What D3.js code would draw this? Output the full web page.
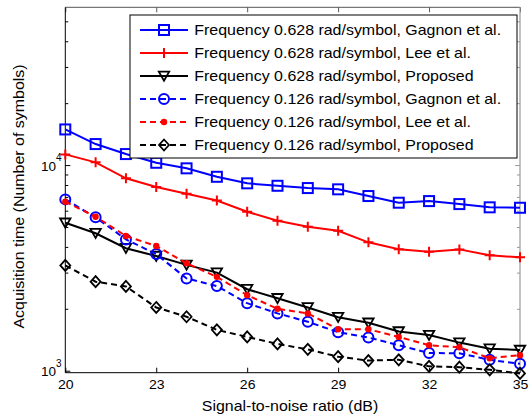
<!DOCTYPE html>
<html>
<head>
<meta charset="utf-8">
<script src="https://cdn.jsdelivr.net/npm/d3@7"></script>
<style>
body { margin: 0; background: #fff; }
text { font-family: "Liberation Sans", Arial, sans-serif; fill: #000; }
</style>
</head>
<body>
<div class="chart"></div>
<script>

// data
var snr = [20, 21, 22, 23, 24, 25, 26, 27, 28, 29, 30, 31, 32, 33, 34, 35]

var gagnon628 = [14900, 12650, 11310, 10260, 9640, 8770, 8150, 7930, 7730, 7620, 7070, 6560, 6680, 6460, 6230, 6200]
var lee628    = [11270, 10310, 8620, 7820, 7250, 6720, 5930, 5360, 5010, 4790, 4210, 3900, 3790, 3890, 3640, 3560]
var prop628   = [5240, 4660, 3940, 3610, 3270, 3000, 2490, 2250, 2030, 1820, 1710, 1550, 1490, 1370, 1280, 1260]
var gagnon126 = [6810, 5570, 4350, 3690, 2810, 2580, 2130, 1900, 1730, 1540, 1450, 1330, 1220, 1215, 1130, 1080]
var lee126    = [6630, 5610, 4520, 4040, 3330, 2860, 2330, 2000, 1900, 1590, 1590, 1460, 1330, 1300, 1150, 1190]
var prop126   = [3250, 2710, 2570, 2030, 1830, 1580, 1460, 1350, 1270, 1170, 1120, 1130, 1050, 1040, 1010, 970]

var seriesNames = ['Frequency 0.628 rad/symbol, Gagnon et al.', 'Frequency 0.628 rad/symbol, Lee et al.',
        'Frequency 0.628 rad/symbol, Proposed', 'Frequency 0.126 rad/symbol, Gagnon et al.',
        'Frequency 0.126 rad/symbol, Lee et al.', 'Frequency 0.126 rad/symbol, Proposed']
var seriesValues = [gagnon628, lee628, prop628, gagnon126, lee126, prop126]

var xTicks = [20, 23, 26, 29, 32, 35]
var yMajor = [1000, 10000]
var yMinor = [2000, 3000, 4000, 5000, 6000, 7000, 8000, 9000, 20000, 30000, 40000, 50000]

var colors  = ['#0000ff', '#ff0000', '#000000', '#0000ff', '#ff0000', '#000000']
var dashes  = [null, null, null, '6,4', '6,4', '6,4']
var markers = ['square', 'plus', 'tri', 'circle', 'dot', 'diamond']

// MARGIN CONVENTION
var margin = {top: 7.3, right: 12, bottom: 42.3, left: 65.3}
var width = 532 - margin.left - margin.right
var height = 415 - margin.top - margin.bottom
var stretch = 1.1

var svg = d3.select('.chart').append('svg')
    .attr('width', 532)
    .attr('height', 415)
  .append('g')
    .attr('transform', 'translate(' + margin.left + ',' + margin.top + ')')

var xScale = d3.scaleLinear().domain([20, 35]).range([0, width])
var yScale = d3.scaleLog().domain([978, 58500]).range([height, 0])

function widen(sel) {
    sel.each(function() {
        var len = this.getComputedTextLength()
        d3.select(this).attr('textLength', len * stretch).attr('lengthAdjust', 'spacingAndGlyphs')
    })
}

// axes: ticks point inwards like matlab
var xAx = svg.append('g')
    .attr('transform', 'translate(0,' + height + ')')
    .call(d3.axisBottom(xScale).tickValues(xTicks).tickSizeInner(-5).tickSizeOuter(0).tickPadding(7.6))
xAx.select('.domain').remove()
xAx.selectAll('text').style('font-size', '12.8px').style('font-family', null).call(widen)
xAx.selectAll('line').attr('stroke', '#000')

var xTop = svg.append('g')
    .call(d3.axisTop(xScale).tickValues(xTicks).tickSizeInner(-5).tickSizeOuter(0).tickFormat(''))
xTop.select('.domain').remove()
xTop.selectAll('line').attr('stroke', '#555')

var yAx = svg.append('g')
    .call(d3.axisLeft(yScale).tickValues(yMajor).tickSizeInner(-5).tickSizeOuter(0).tickPadding(4)
        .tickFormat(''))
yAx.select('.domain').remove()
yAx.attr('font-size', null).attr('font-family', null)
yAx.selectAll('.tick').each(function(d) {
    var t = d3.select(this).append('text')
        .attr('x', -3.8)
        .attr('y', 5)
        .attr('text-anchor', 'end')
        .style('font-size', '13.5px')
    t.append('tspan').text('10').style('font-size', '13.5px')
    t.append('tspan').attr('dy', -9.5).text(Math.round(Math.log10(d))).style('font-size', '10px')
})

svg.append('g')
    .call(d3.axisLeft(yScale).tickValues(yMinor).tickSizeInner(-3).tickSizeOuter(0).tickFormat(''))
    .select('.domain').remove()

var yRight = svg.append('g')
    .attr('transform', 'translate(' + width + ',0)')
yRight.call(d3.axisRight(yScale).tickValues(yMajor).tickSizeInner(-5).tickSizeOuter(0).tickFormat(''))
yRight.append('g').call(d3.axisRight(yScale).tickValues(yMinor).tickSizeInner(-3).tickSizeOuter(0).tickFormat(''))
yRight.selectAll('.domain').remove()
yRight.selectAll('line').attr('stroke', '#999')

// frame
svg.append('line').attr('x1', 0).attr('x2', width).attr('y1', 0).attr('y2', 0)
    .attr('stroke', '#555').attr('stroke-width', 1)
svg.append('line').attr('x1', width).attr('x2', width).attr('y1', 0).attr('y2', height)
    .attr('stroke', '#999').attr('stroke-width', 1.2)
svg.append('line').attr('x1', 0).attr('x2', width).attr('y1', height).attr('y2', height)
    .attr('stroke', '#000').attr('stroke-width', 1)
svg.append('line').attr('x1', 0).attr('x2', 0).attr('y1', 0).attr('y2', height)
    .attr('stroke', '#000').attr('stroke-width', 1)

// axis titles
svg.append('text')
    .attr('x', 290 - margin.left)
    .attr('y', 411.5 - margin.top)
    .attr('text-anchor', 'middle')
    .style('font-size', '14.5px')
    .text('Signal-to-noise ratio (dB)')
    .call(widen)

svg.append('text')
    .attr('transform', 'translate(' + (23.5 - margin.left) + ',' + (196.5 - margin.top) + ') rotate(-90)')
    .attr('text-anchor', 'middle')
    .style('font-size', '14.5px')
    .text('Acquisition time (Number of symbols)')
    .call(widen)

// marker drawing
function drawMarker(g, kind, color) {
    if (kind == 'square') {
        g.append('rect').attr('x', -5).attr('y', -5).attr('width', 10).attr('height', 10)
            .attr('fill', 'none').attr('stroke', color).attr('stroke-width', 2)
    } else if (kind == 'plus') {
        g.append('path').attr('d', 'M-5,0H5M0,-5V5')
            .attr('fill', 'none').attr('stroke', color).attr('stroke-width', 2)
    } else if (kind == 'tri') {
        g.append('path').attr('d', 'M-5.2,-4.3L5.2,-4.3L0,4.8Z')
            .attr('fill', 'none').attr('stroke', color).attr('stroke-width', 1.8)
    } else if (kind == 'circle') {
        g.append('circle').attr('r', 5)
            .attr('fill', 'none').attr('stroke', color).attr('stroke-width', 2)
    } else if (kind == 'dot') {
        g.append('circle').attr('r', 3.2).attr('fill', color)
    } else if (kind == 'diamond') {
        g.append('path').attr('d', 'M0,-5.5L5,0L0,5.5L-5,0Z')
            .attr('fill', 'none').attr('stroke', color).attr('stroke-width', 1.8)
    }
}

var line = d3.line()
    .x(function(d) { return xScale(d.x) })
    .y(function(d) { return yScale(d.y) })

for (var s = 0; s < seriesValues.length; s++) {
    var pts = snr.map(function(v, i) { return {x: v, y: seriesValues[s][i]} })
    var grp = svg.append('g').attr('class', 'series')
    grp.append('path')
        .datum(pts)
        .attr('d', line)
        .attr('fill', 'none')
        .attr('stroke', colors[s])
        .attr('stroke-width', 2)
        .attr('stroke-dasharray', dashes[s])
    grp.selectAll('.mk').data(pts).enter().append('g')
        .attr('class', 'mk')
        .attr('transform', function(d) { return 'translate(' + xScale(d.x) + ',' + yScale(d.y) + ')' })
        .each(function() { drawMarker(d3.select(this), markers[s], colors[s]) })
}

// legend
var leg = svg.append('g')
    .attr('transform', 'translate(' + (130 - margin.left) + ',' + (15 - margin.top) + ')')
leg.append('rect')
    .attr('width', 387).attr('height', 143)
    .attr('fill', '#fff').attr('stroke', '#000').attr('stroke-width', 1)

var rowY = d3.scaleLinear().domain([0, 5]).range([15, 130])
seriesNames.forEach(function(name, i) {
    var row = leg.append('g').attr('transform', 'translate(0,' + rowY(i) + ')')
    row.append('line')
        .attr('x1', 10).attr('x2', 58)
        .attr('stroke', colors[i]).attr('stroke-width', 2)
        .attr('stroke-dasharray', dashes[i])
    drawMarker(row.append('g').attr('transform', 'translate(34,0)'), markers[i], colors[i])
    row.append('text')
        .attr('x', 64.3)
        .attr('y', 5)
        .style('font-size', '14.5px')
        .text(name)
        .call(widen)
})

</script>
</body>
</html>
